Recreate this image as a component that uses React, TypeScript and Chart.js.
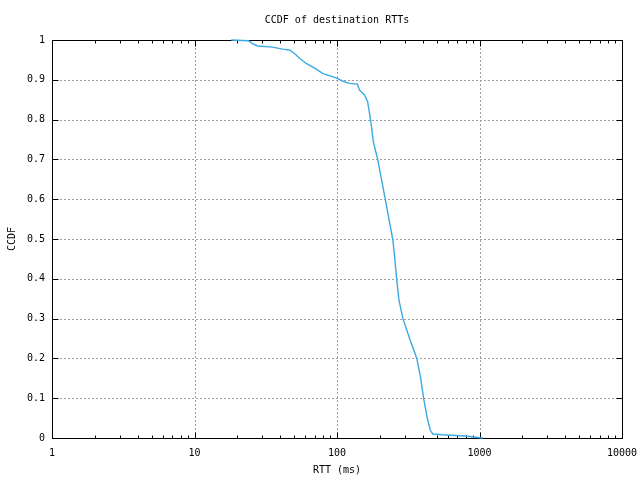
import React, { useEffect, useRef } from "react";
import { Chart, registerables } from "chart.js";

Chart.register(...registerables);

const chartTitle = "CCDF of destination RTTs";
const xAxisTitle = "RTT (ms)";
const yAxisTitle = "CCDF";

const xTickValues = [1, 10, 100, 1000, 10000];
const yTickValues = [0, 0.1, 0.2, 0.3, 0.4, 0.5, 0.6, 0.7, 0.8, 0.9, 1];

const rttMs = [
  18.1, 23.9, 25.5, 27.7, 35.3, 41.5, 46.4, 50.3, 54.6, 60.8, 71.5, 79.1, 98.7,
  109, 122, 139, 144, 156, 164, 169, 174, 180, 188, 193, 218, 246, 253, 262, 272,
  290, 326, 363, 385, 405, 430, 451, 470, 550, 785, 1055,
];
const ccdf = [
  1.0, 0.998, 0.991, 0.985, 0.982, 0.977, 0.975, 0.966, 0.954, 0.941, 0.927,
  0.916, 0.905, 0.897, 0.891, 0.889, 0.874, 0.862, 0.845, 0.816, 0.786, 0.744,
  0.716, 0.7, 0.6, 0.5, 0.46, 0.4, 0.347, 0.3, 0.246, 0.2, 0.154, 0.1, 0.05,
  0.02, 0.01, 0.008, 0.005, 0.0,
];

const FONT = "'DejaVu Sans Mono', 'Liberation Mono', monospace";

const gnuplotFrame = {
  id: "gnuplotFrame",
  beforeDatasetsDraw(chart: any) {
    const { ctx, chartArea: a, scales } = chart;
    const xs = scales.x;
    const ys = scales.y;
    ctx.save();
    ctx.strokeStyle = "#a0a0a0";
    ctx.lineWidth = 1;
    ctx.setLineDash([2, 2]);
    for (const v of xTickValues.slice(1, -1)) {
      const px = Math.round(xs.getPixelForValue(v)) + 0.5;
      ctx.beginPath();
      ctx.moveTo(px, a.top);
      ctx.lineTo(px, a.bottom);
      ctx.stroke();
    }
    for (const v of yTickValues.slice(1, -1)) {
      const py = Math.round(ys.getPixelForValue(v)) + 0.5;
      ctx.beginPath();
      ctx.moveTo(a.left, py);
      ctx.lineTo(a.right, py);
      ctx.stroke();
    }
    ctx.strokeStyle = "#000";
    ctx.setLineDash([]);
    const L = Math.round(a.left) + 0.5;
    const R = Math.round(a.right) + 0.5;
    const T = Math.round(a.top) + 0.5;
    const B = Math.round(a.bottom) + 0.5;
    ctx.beginPath();
    for (let d = 0; d < 4; d++) {
      for (let k = 1; k <= 9; k++) {
        const v = k * Math.pow(10, d);
        const len = k === 1 ? 6 : 3;
        const px = Math.round(xs.getPixelForValue(v)) + 0.5;
        ctx.moveTo(px, B);
        ctx.lineTo(px, B - len);
        ctx.moveTo(px, T);
        ctx.lineTo(px, T + len);
      }
    }
    for (const v of yTickValues) {
      const py = Math.round(ys.getPixelForValue(v)) + 0.5;
      ctx.moveTo(L, py);
      ctx.lineTo(L + 6, py);
      ctx.moveTo(R, py);
      ctx.lineTo(R - 6, py);
    }
    ctx.stroke();
    ctx.strokeRect(L, T, R - L, B - T);
    ctx.fillStyle = "#000";
    ctx.font = `10px ${FONT}`;
    ctx.textAlign = "center";
    ctx.textBaseline = "middle";
    ctx.fillText(chartTitle, (a.left + a.right) / 2, 20);
    ctx.restore();
  },
};

export default function App() {
  const ref = useRef<HTMLCanvasElement | null>(null);
  useEffect(() => {
    if (!ref.current) return;
    Chart.defaults.font.family = FONT;
    Chart.defaults.font.size = 10;
    Chart.defaults.color = "#000";
    const chart = new Chart(ref.current, {
      type: "line",
      data: {
        datasets: [
          {
            data: rttMs.map((x, i) => ({ x, y: ccdf[i] })),
            borderColor: "#3aa9e6",
            borderWidth: 1.4,
            pointRadius: 0,
            tension: 0,
            fill: false,
            clip: 3,
          },
        ],
      },
      options: {
        responsive: false,
        animation: false,
        devicePixelRatio: 1,
        layout: { padding: { top: 40, right: 18, left: 0, bottom: 0 } },
        plugins: {
          legend: { display: false },
          tooltip: { enabled: false },
          title: { display: false },
        },
        scales: {
          x: {
            type: "logarithmic",
            min: 1,
            max: 10000,
            afterBuildTicks: (s: any) => {
              s.ticks = xTickValues.map((v) => ({ value: v, major: true }));
            },
            afterFit: (s: any) => {
              s.height = 42;
              s.paddingLeft = 0;
              s.paddingRight = 0;
            },
            ticks: {
              autoSkip: false,
              maxRotation: 0,
              padding: 9,
              color: "#000",
              font: { family: FONT, size: 10 },
              callback: (v: any) => String(v),
            },
            grid: { display: false, drawTicks: false },
            border: { display: false },
            title: {
              display: true,
              text: xAxisTitle,
              color: "#000",
              font: { family: FONT, size: 10 },
              padding: { top: 0, bottom: 4 },
            },
          },
          y: {
            type: "linear",
            min: 0,
            max: 1,
            afterBuildTicks: (s: any) => {
              s.ticks = yTickValues.map((v) => ({ value: v }));
            },
            afterFit: (s: any) => {
              s.width = 52;
              s.paddingTop = 0;
              s.paddingBottom = 0;
            },
            ticks: {
              autoSkip: false,
              padding: 7,
              color: "#000",
              font: { family: FONT, size: 10 },
              callback: (v: any) => String(Math.round(v * 10) / 10),
            },
            grid: { display: false, drawTicks: false },
            border: { display: false },
            title: {
              display: true,
              text: yAxisTitle,
              color: "#000",
              font: { family: FONT, size: 10 },
              padding: { top: 6, bottom: 0 },
            },
          },
        },
      },
      plugins: [gnuplotFrame],
    } as any);
    return () => chart.destroy();
  }, []);
  return (
    <div style={{ position: "absolute", left: 0, top: 0, width: 640, height: 480, background: "#fff" }}>
      <canvas ref={ref} width={640} height={480} />
    </div>
  );
}
